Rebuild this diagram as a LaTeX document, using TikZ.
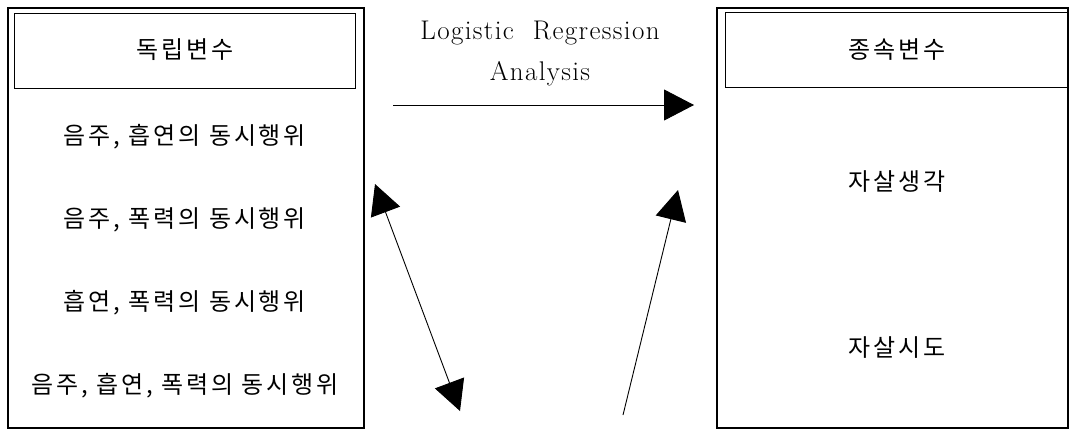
\documentclass[tikz,border=0pt]{standalone}
\usepackage{fontspec}
\newfontfamily\kr[LetterSpace=12]{Noto Sans CJK KR}
\newfontfamily\lat[LetterSpace=5]{Latin Modern Roman}
\usetikzlibrary{arrows.meta}
\begin{document}
\begin{tikzpicture}[x=1pt,y=-1pt,
  outerbox/.style={draw, line width=1.3pt, inner sep=0pt},
  headbox/.style={draw, line width=0.8pt, inner sep=0pt},
  kt/.style={font=\kr\fontsize{24}{28}\selectfont, inner sep=0pt},
  lt/.style={font=\lat\fontsize{27}{31}\selectfont, inner sep=0pt},
  arr/.style={line width=0.9pt, -{Triangle[length=30pt,width=31pt]}},
  darr/.style={line width=0.9pt, {Triangle[length=30pt,width=31pt]}-{Triangle[length=30pt,width=31pt]}}]
\useasboundingbox (0,0) rectangle (1070,432);
% left block
\node[outerbox, minimum width=356pt, minimum height=420pt] (L) at (186,218) {};
\node[headbox, minimum width=341pt, minimum height=75pt] (LH) at (184.5,50.5) {};
\node[kt] (lh) at (185,50) {독립변수};
\node[kt] (l1) at (185,137) {음주, 흡연의 동시행위};
\node[kt] (l2) at (185,220) {음주, 폭력의 동시행위};
\node[kt] (l3) at (185,303) {흡연, 폭력의 동시행위};
\node[kt] (l4) at (185,386) {음주, 흡연, 폭력의 동시행위};
% right block
\node[outerbox, minimum width=351pt, minimum height=420pt] (R) at (892.5,218) {};
\node[headbox, minimum width=342pt, minimum height=75pt] (RH) at (896,49.5) {};
\node[kt] (rh) at (897,50) {종속변수};
\node[kt] (r1) at (897,182) {자살생각};
\node[kt] (r2) at (897,348) {자살시도};
% middle label
\node[lt] (m1) at (540,33) {Logistic\ \ Regression};
\node[lt] (m2) at (540,74) {Analysis};
% arrows
\coordinate (h1) at (393,105);
\coordinate (h2) at (694,105);
\coordinate (d1) at (375,184);
\coordinate (d2) at (460,411);
\coordinate (u1) at (623,415);
\coordinate (u2) at (678,190);
\draw[arr] (h1) -- (h2);
\draw[darr] (d1) -- (d2);
\draw[arr] (u1) -- (u2);
\end{tikzpicture}
\end{document}
